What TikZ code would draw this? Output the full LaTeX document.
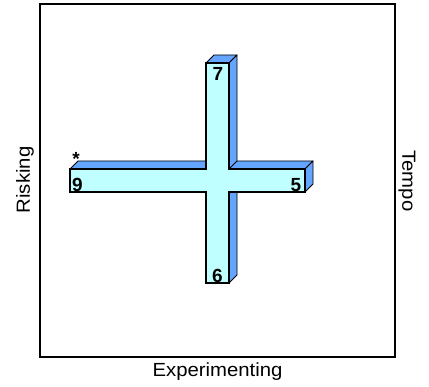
\documentclass[tikz,border=0pt]{standalone}
\usepackage{fontspec}
\setmainfont{Liberation Sans}
\newfontfamily\lblfont{Liberation Sans}[FakeStretch=1.07]
\definecolor{frontc}{RGB}{192,255,255}
\definecolor{sidec}{RGB}{100,165,255}
\begin{document}
\begin{tikzpicture}[x=1pt,y=-1pt,
  face/.style={fill=sidec,draw=black,line width=0.9pt,line join=round},
  frontface/.style={fill=frontc,draw=black,line width=1.1pt,line join=miter},
  digit/.style={font=\fontsize{19}{22}\selectfont\bfseries,inner sep=0pt},
  lbl/.style={font=\lblfont\fontsize{19}{22}\selectfont,inner sep=0pt}]
\useasboundingbox (0,0) rectangle (429,387);
\draw[line width=2pt] (40,4) rectangle (395,357);
% horizontal bar: top and right side
\draw[face] (70,169) -- (78,161) -- (313,161) -- (305,169) -- cycle;
\draw[face] (305,169) -- (313,161) -- (313,184) -- (305,192) -- cycle;
% vertical bar: top and right side
\draw[face] (206,63) -- (214,55) -- (237,55) -- (229,63) -- cycle;
\draw[face] (229,63) -- (237,55) -- (237,161) -- (229,169) -- cycle;
\draw[face] (229,192) -- (237,192) -- (237,275) -- (229,283) -- cycle;
% front of the cross
\draw[frontface] (206,63) -- (229,63) -- (229,169) -- (305,169) -- (305,192)
  -- (229,192) -- (229,283) -- (206,283) -- (206,192) -- (70,192)
  -- (70,169) -- (206,169) -- cycle;
% labels
\node[digit] (n7) at (218,74) {7};
\node[digit] (n6) at (217.5,276) {6};
\node[digit] (n9) at (77.5,185) {9};
\node[digit] (n5) at (296,185.5) {5};
\node[inner sep=0pt,font=\fontsize{19}{22}\selectfont\bfseries] (star) at (76,158.5) {*};
\node[lbl] (exp) at (217.5,372) {Experimenting};
\node[lbl,rotate=90] (risk) at (25,180) {Risking};
\node[lbl,rotate=-90] (tempo) at (407,181) {Tempo};
\end{tikzpicture}
\end{document}
